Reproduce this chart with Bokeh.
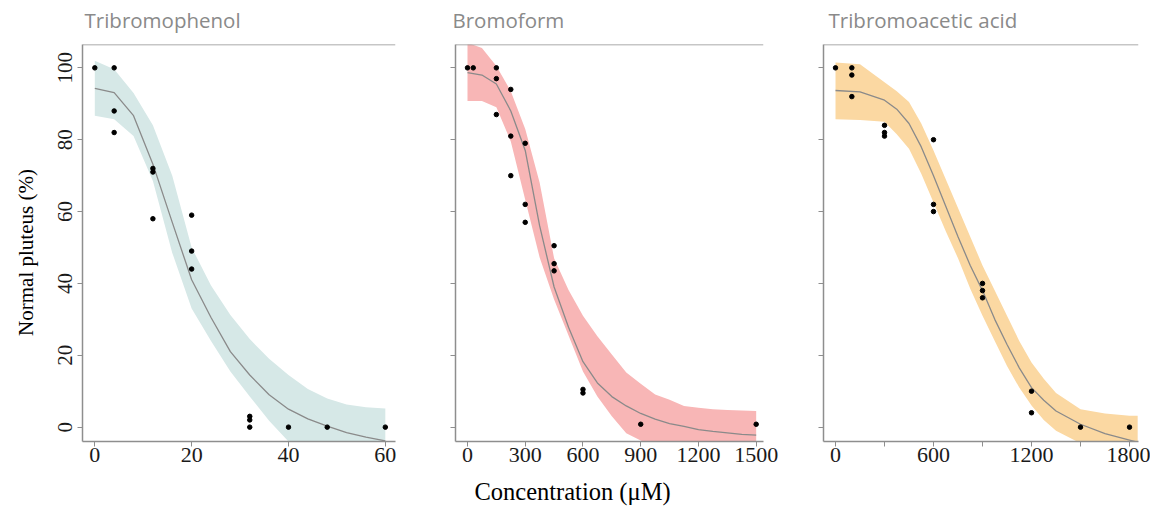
import math
from bokeh.plotting import figure
from bokeh.layouts import row, column
from bokeh.models import Range1d, FixedTicker, Span
from bokeh.core.properties import value
from bokeh.embed import file_html
from bokeh.resources import INLINE

# ---------------- data ----------------
titles = ["Tribromophenol", "Bromoform", "Tribromoacetic acid"]
x_label = "Concentration (\u03bcM)"
y_label = "Normal pluteus (%)"

# Tribromophenol
tbp_x = [0, 4, 4, 4, 12, 12, 12, 20, 20, 20, 32, 32, 32, 40, 48, 60]
tbp_y = [100, 100, 88, 82, 72, 71, 58, 59, 49, 44, 3, 2, 0, 0, 0, 0]
tbp_fit_x = [0, 4, 8, 12, 16, 20, 24, 28, 32, 36, 40, 44, 48, 52, 56, 60]
tbp_fit = [94.3, 93.1, 86.7, 73.2, 57, 41, 30.5, 21, 14.5, 9, 5, 2.3, 0.3, -1.5, -2.8, -3.8]
tbp_upper = [102, 99.6, 93, 84, 70, 50, 39.4, 31.2, 24.5, 19, 14.5, 10.6, 8, 6.3, 5.5, 5.2]
tbp_lower = [86.7, 85.7, 81, 68.5, 48.5, 33, 24, 15.5, 8.5, 1.8, -4, -9, -12, -14, -15, -16]
tbp_ticks = [0, 20, 40, 60]

# Bromoform
bf_x = [0, 30, 150, 150, 150, 225, 225, 225, 300, 300, 300, 450, 450, 450, 600, 600, 900, 1500]
bf_y = [100, 100, 100, 97, 87, 94, 81, 70, 79, 62, 57, 50.5, 45.5, 43.5, 10.5, 9.5, 0.8, 0.8]
bf_fit_x = [0, 75, 150, 225, 300, 375, 450, 525, 600, 675, 750, 825, 900, 975, 1050,
            1125, 1200, 1275, 1350, 1425, 1500]
bf_fit = [98.7, 98.0, 95.5, 88.0, 77.0, 56.0, 39.0, 27.8, 18.2, 12.3, 8.5, 5.9, 3.8, 2.2, 1.0,
          0.2, -0.7, -1.2, -1.6, -2.0, -2.2]
bf_upper = [107, 105.5, 100.5, 93.5, 83, 68, 47, 38.2, 31, 25.3, 20.2, 15.2, 12.1, 9.1, 7.6,
            5.9, 5.4, 5.0, 4.8, 4.6, 4.5]
bf_lower = [90.8, 90.8, 89, 79.5, 63.3, 47.2, 35.5, 25.5, 15.5, 8.5, 3, -1.7, -3.7, -5.5, -7,
            -8, -9, -10, -10, -10, -10]
bf_ticks = [0, 300, 600, 900, 1200, 1500]

# Tribromoacetic acid
ta_x = [0, 100, 100, 100, 300, 300, 300, 600, 600, 600, 900, 900, 900, 1200, 1200, 1500, 1800]
ta_y = [100, 100, 98, 92, 84, 82, 81, 80, 62, 60, 40, 38, 36, 10, 4, 0, 0]
ta_fit_x = [0, 150, 300, 375, 450, 525, 600, 675, 750, 825, 900, 975, 1050, 1125, 1200,
            1275, 1350, 1500, 1650, 1800, 1850]
ta_fit = [93.7, 93.3, 91, 88.5, 84.5, 78, 70, 61.5, 53, 45, 38, 30, 23, 16.5, 11,
          7.5, 4.5, 0.8, -1.8, -3.6, -4.2]
ta_upper = [101.5, 101, 96, 93.5, 90.5, 84.5, 77, 69, 61, 53, 45, 38, 31, 24, 18,
            13.5, 9.5, 5, 3.8, 3.2, 3.2]
ta_lower = [85.7, 85.5, 85, 81.5, 77.5, 70.5, 62.5, 54.5, 47, 38.5, 31, 24, 17, 11, 6,
            2, -1, -4.5, -8, -10, -10]
ta_ticks = [0, 600, 1200, 1800]
ta_minor = [300, 900, 1500]

y_ticks = [0, 20, 40, 60, 80, 100]

# ---------------- style / layout ----------------
AXIS = "#8e8e8e"
SERIF = "Liberation Serif"
TITLE_FONT = "Open Sans"
Y_RANGE = (-4.0, 106.5)
TOP_STRIP_H = 40
BOTTOM_STRIP_H = 30
BORDER_TOP = 4
BORDER_BOTTOM = 35
FRAME_H = 397
PANEL_H = BORDER_TOP + FRAME_H + BORDER_BOTTOM
YLAB_W = 76
PANEL_W = [339, 368, 367]
PANEL_LEFT = [6, 40, 40]
PANEL_RIGHT = [20, 20, 12]
TOTAL_W = YLAB_W + sum(PANEL_W)

shared_y = Range1d(*Y_RANGE)


def make_panel(px, py, fx, fy, up, lo, band_color, xr, xticks, xminor, width, left, right):
    p = figure(width=width, height=PANEL_H, x_range=Range1d(*xr), y_range=shared_y,
               output_backend="svg", toolbar_location=None,
               min_border_left=left, min_border_right=right,
               min_border_top=BORDER_TOP, min_border_bottom=BORDER_BOTTOM)
    p.outline_line_color = None
    p.grid.visible = False

    p.varea(x=fx, y1=lo, y2=up, fill_color=band_color, fill_alpha=1.0)
    p.line(fx, fy, line_color="#8a8a8a", line_width=1.3)
    p.scatter(px, py, size=4.5, color="black", line_color="black")

    p.add_layout(Span(location=Y_RANGE[1], dimension="width", line_color=AXIS, line_width=1.5))

    xa = p.xaxis[0]
    xa.ticker = FixedTicker(ticks=xticks, minor_ticks=xminor)
    xa.axis_line_color = AXIS
    xa.axis_line_width = 1.5
    xa.major_tick_line_color = AXIS
    xa.minor_tick_line_color = AXIS
    xa.major_tick_out = 5
    xa.major_tick_in = 0
    xa.minor_tick_out = 5
    xa.minor_tick_in = 0
    xa.major_label_text_font = SERIF
    xa.major_label_text_font_size = "22px"
    xa.major_label_text_color = "#1a1a1a"
    xa.major_label_standoff = 1

    ya = p.yaxis[0]
    ya.ticker = FixedTicker(ticks=[], minor_ticks=y_ticks)
    ya.axis_line_color = AXIS
    ya.axis_line_width = 1.5
    ya.minor_tick_line_color = AXIS
    ya.major_tick_line_color = AXIS
    ya.major_tick_out = 5
    ya.major_tick_in = 0
    ya.minor_tick_out = 5
    ya.minor_tick_in = 0
    ya.major_label_standoff = 0
    return p


def strip(width, height, y_range=None, top=0, bottom=0):
    f = figure(width=width, height=height, x_range=Range1d(0, width),
               y_range=y_range if y_range is not None else Range1d(height, 0),
               output_backend="svg", toolbar_location=None,
               x_axis_type=None, y_axis_type=None,
               min_border_left=0, min_border_right=0,
               min_border_top=top, min_border_bottom=bottom)
    f.outline_line_color = None
    return f


p1 = make_panel(tbp_x, tbp_y, tbp_fit_x, tbp_fit, tbp_upper, tbp_lower, "#d6e8e7",
                (-2.54, 62.1), tbp_ticks, [], PANEL_W[0], PANEL_LEFT[0], PANEL_RIGHT[0])
p2 = make_panel(bf_x, bf_y, bf_fit_x, bf_fit, bf_upper, bf_lower, "#f8b6b6",
                (-62.3, 1538), bf_ticks, [], PANEL_W[1], PANEL_LEFT[1], PANEL_RIGHT[1])
p3 = make_panel(ta_x, ta_y, ta_fit_x, ta_fit, ta_upper, ta_lower, "#fbd8a2",
                (-73.5, 1855), ta_ticks, ta_minor, PANEL_W[2], PANEL_LEFT[2], PANEL_RIGHT[2])

# panel titles (strip above the panels), positioned at each frame's left edge
frame_left = []
acc = YLAB_W
for w, l in zip(PANEL_W, PANEL_LEFT):
    frame_left.append(acc + l)
    acc += w
title_dx = [2, -3, 5]
top = strip(TOTAL_W, TOP_STRIP_H)
top.text(x=[fl + d for fl, d in zip(frame_left, title_dx)], y=[19.5] * 3, text=titles,
         text_font=value(TITLE_FONT), text_font_size=value("20.5px"), text_color="#8a8a8a",
         text_align="left", text_baseline="middle")

# y tick labels and y-axis title (rotated, reading upwards), sharing the panels' y scale
ylab = strip(YLAB_W, PANEL_H, y_range=shared_y, top=BORDER_TOP, bottom=BORDER_BOTTOM)
ylab.text(x=[64] * len(y_ticks), y=y_ticks, text=[str(t) for t in y_ticks],
          angle=math.pi / 2, text_align="center", text_baseline="middle",
          text_font=value(SERIF), text_font_size=value("21px"), text_color="#1a1a1a")
px_per_unit = FRAME_H / (Y_RANGE[1] - Y_RANGE[0])
y_title_at = Y_RANGE[1] - (252 - TOP_STRIP_H - BORDER_TOP) / px_per_unit
ylab.text(x=[25], y=[y_title_at], text=[y_label], angle=math.pi / 2,
          text_align="center", text_baseline="middle",
          text_font=value(SERIF), text_font_size=value("21px"), text_color="black")

# x-axis title (strip below the panels)
bottom = strip(TOTAL_W, BOTTOM_STRIP_H)
bottom.text(x=[572], y=[15], text=[x_label], text_align="center", text_baseline="middle",
            text_font=value(SERIF), text_font_size=value("24.5px"), text_color="black")

layout = column(top, row(ylab, p1, p2, p3, spacing=0), bottom, spacing=0)
open("out.html", "w").write(file_html(layout, INLINE))
